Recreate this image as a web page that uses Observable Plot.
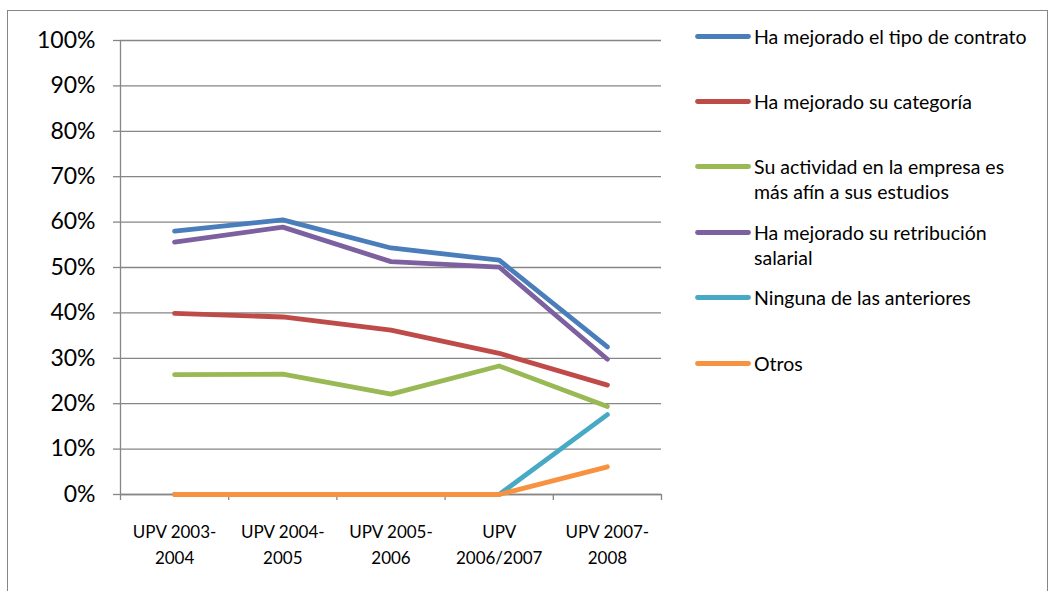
<!DOCTYPE html>
<html>
<head>
<meta charset="utf-8">
<script src="https://cdn.jsdelivr.net/npm/d3@7"></script>
<script src="https://cdn.jsdelivr.net/npm/@observablehq/plot@0.6"></script>
<style>
  html, body { margin: 0; padding: 0; background: #fff; }
  #wrap { position: relative; width: 1051px; height: 591px; overflow: hidden; font-family: Lato, "Open Sans", sans-serif; }
  #frame { position: absolute; left: 7px; top: 10px; width: 1041px; height: 640px; border: 1.5px solid #868686; box-sizing: border-box; }
  #chart { position: absolute; left: 0; top: 0; }
  .leg { position: absolute; left: 695px; display: flex; align-items: flex-start; }
  .leg svg { flex: none; }
  .leg span { font-size: 19.5px; line-height: 25px; color: #000; white-space: pre-line; margin-left: 3px; }
</style>
</head>
<body>
<div id="wrap">
  <div id="frame"></div>
  <div id="chart"></div>
</div>
<script>
const categories = ["UPV 2003-2004", "UPV 2004-2005", "UPV 2005-2006", "UPV 2006/2007", "UPV 2007-2008"];
const tickLabels = ["UPV 2003-\n2004", "UPV 2004-\n2005", "UPV 2005-\n2006", "UPV\n2006/2007", "UPV 2007-\n2008"];
const seriesNames = [
  "Ha mejorado el tipo de contrato",
  "Ha mejorado su categoría",
  "Su actividad en la empresa es más afín a sus estudios",
  "Ha mejorado su retribución salarial",
  "Ninguna de las anteriores",
  "Otros"
];
const legendLabels = [
  "Ha mejorado el tipo de contrato",
  "Ha mejorado su categoría",
  "Su actividad en la empresa es\nmás afín a sus estudios",
  "Ha mejorado su retribución\nsalarial",
  "Ninguna de las anteriores",
  "Otros"
];
const colors = ["#4A7EBB", "#BE4B48", "#98B954", "#7D60A0", "#46AAC5", "#F69240"];

const contrato   = [0.580, 0.605, 0.543, 0.516, 0.325];
const categoria  = [0.399, 0.391, 0.362, 0.311, 0.241];
const actividad  = [0.264, 0.265, 0.221, 0.283, 0.194];
const retribucion= [0.556, 0.589, 0.513, 0.501, 0.298];
const ninguna    = [0.000, 0.000, 0.000, 0.000, 0.176];
const otros      = [0.000, 0.000, 0.000, 0.000, 0.061];
const yTicks = [0, 0.1, 0.2, 0.3, 0.4, 0.5, 0.6, 0.7, 0.8, 0.9, 1];

const seriesValues = [contrato, categoria, actividad, retribucion, ninguna, otros];
const rows = [];
seriesValues.forEach((vals, s) => {
  vals.forEach((v, i) => rows.push({series: seriesNames[s], category: categories[i], i, v}));
});

const grey = "#868686";
const chart = Plot.plot({
  width: 1051,
  height: 591,
  marginLeft: 120,
  marginRight: 390,
  marginTop: 40,
  marginBottom: 97,
  style: {fontFamily: "Lato, 'Open Sans', sans-serif", color: "#000", background: "transparent", overflow: "visible"},
  x: {type: "linear", domain: [-0.5, categories.length - 0.5]},
  y: {domain: [0, 1]},
  color: {domain: seriesNames, range: colors},
  marks: [
    Plot.gridY(yTicks, {stroke: grey, strokeOpacity: 1, strokeWidth: 1.3}),
    Plot.axisY(yTicks, {tickFormat: d3.format(".0%"), tickSize: 7, tickPadding: 18, fontSize: 23, stroke: grey, strokeWidth: 1.3, label: null}),
    Plot.axisX(d3.range(categories.length), {tickFormat: i => tickLabels[i], tickSize: 0, tickPadding: 24, fontSize: 17, lineHeight: 1.58, label: null}),
    Plot.axisX(d3.range(-0.5, categories.length, 1), {tickFormat: () => "", tickSize: 6, stroke: grey, strokeWidth: 1.3, label: null}),
    Plot.ruleX([-0.5], {stroke: grey, strokeWidth: 1.3}),
    Plot.ruleY([0], {stroke: grey, strokeWidth: 1.3}),
    Plot.line(rows, {x: "i", y: "v", z: "series", stroke: "series", strokeWidth: 4.8, strokeLinecap: "round", strokeLinejoin: "round"})
  ]
});
document.getElementById("chart").appendChild(chart);

const wrap = document.getElementById("wrap");
legendLabels.forEach((label, k) => {
  const lineY = 36 + k * 65.4;
  const div = document.createElement("div");
  div.className = "leg";
  div.style.top = (lineY - 12.5) + "px";
  div.innerHTML = `<svg width="56" height="25"><line x1="2.5" x2="53.5" y1="12.5" y2="12.5" stroke="${colors[k]}" stroke-width="4.8" stroke-linecap="round"/></svg><span></span>`;
  div.querySelector("span").textContent = label;
  wrap.appendChild(div);
});
</script>
</body>
</html>
